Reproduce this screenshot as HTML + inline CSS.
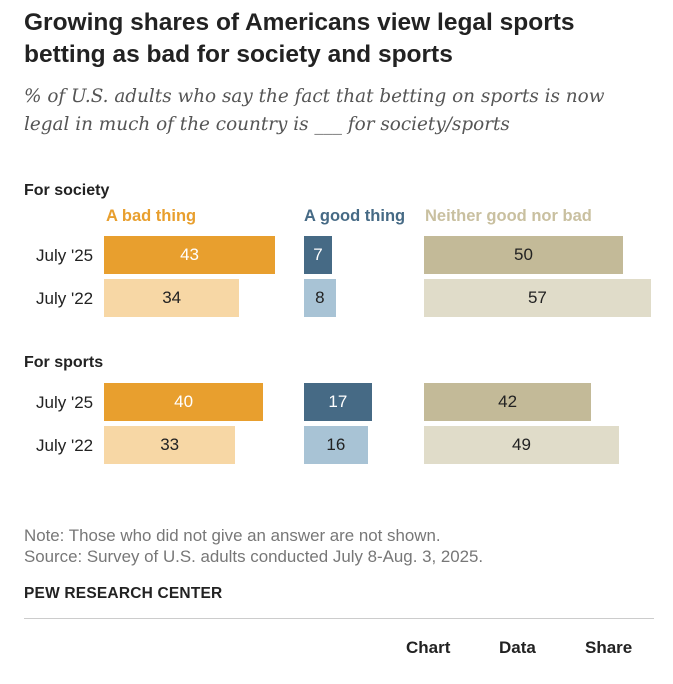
<!DOCTYPE html>
<html><head><meta charset="utf-8"><style>
body{margin:0;background:#fff;width:673px;height:684px;position:relative;font-family:"Liberation Sans",sans-serif;color:#222;overflow:hidden}
.abs{position:absolute}
.t{left:24px;top:7px;font-size:24.5px;font-weight:bold;line-height:32px;color:#222;width:620px}
.st{left:24px;top:83px;font-family:"DejaVu Serif",serif;font-style:italic;font-size:18.4px;line-height:28px;color:#555;white-space:nowrap}
.sec{font-size:16px;font-weight:bold;left:24px}
.hd{font-size:16.5px;font-weight:bold;top:207px}
.lab{font-size:17px;left:36px}
.val{font-size:17px;text-align:center;line-height:38px}
.note{left:24px;font-size:16.9px;color:#777;line-height:21px;top:525px;white-space:nowrap}
.btn{font-size:17px;font-weight:bold;top:638px}
</style></head><body>
<div class="abs t">Growing shares of Americans view legal sports<br>betting as bad for society and sports</div>
<div class="abs st">% of U.S. adults who say the fact that betting on sports is now<br>legal in much of the country is ___ for society/sports</div>
<div class="abs sec" style="top:182px">For society</div>
<div class="abs sec" style="top:354px">For sports</div>
<div class="abs hd" style="left:106px;color:#E89F2E">A bad thing</div>
<div class="abs hd" style="left:304px;color:#466A85">A good thing</div>
<div class="abs hd" style="left:425px;color:#C9C0A0">Neither good nor bad</div>
<div id="bars"></div>
<div class="abs note">Note: Those who did not give an answer are not shown.<br>Source: Survey of U.S. adults conducted July 8-Aug. 3, 2025.</div>
<div class="abs" style="left:24px;top:585px;font-size:15.5px;font-weight:bold;letter-spacing:0.2px">PEW RESEARCH CENTER</div>
<div class="abs" style="left:24px;top:618px;width:630px;height:1px;background:#ccc"></div>
<div class="abs btn" style="left:406px">Chart</div>
<div class="abs btn" style="left:499px">Data</div>
<div class="abs btn" style="left:585px">Share</div>
<script>
const rowLabels=["July '25","July '22","July '25","July '22"];
const badVals=[43,34,40,33];
const goodVals=[7,8,17,16];
const neitherVals=[50,57,42,49];
const rowTops=[236,279,383,426];
const groups=[
 {name:'bad',vals:badVals,x0:104,colors:['#E89F2E','#F7D7A5'],txt:['#fff','#222']},
 {name:'good',vals:goodVals,x0:304,colors:['#466A85','#A8C3D5'],txt:['#fff','#222']},
 {name:'neither',vals:neitherVals,x0:424,colors:['#C3BA98','#E0DCC9'],txt:['#222','#222']}];
const k=3.98;
const c=document.getElementById('bars');
rowLabels.forEach((l,i)=>{
 const d=document.createElement('div');d.className='abs lab';d.style.top=(rowTops[i]+10)+'px';d.textContent=l;
 
 
 c.appendChild(d);
 groups.forEach(g=>{
  const v=g.vals[i],light=i%2;
  const b=document.createElement('div');b.className='abs val';
  b.style.cssText+=`left:${g.x0}px;top:${rowTops[i]}px;width:${v*k}px;height:38px;background:${g.colors[light]};color:${g.txt[light]}`;
  b.textContent=v;
  
  
  c.appendChild(b);
 });
});
</script>
</body></html>
